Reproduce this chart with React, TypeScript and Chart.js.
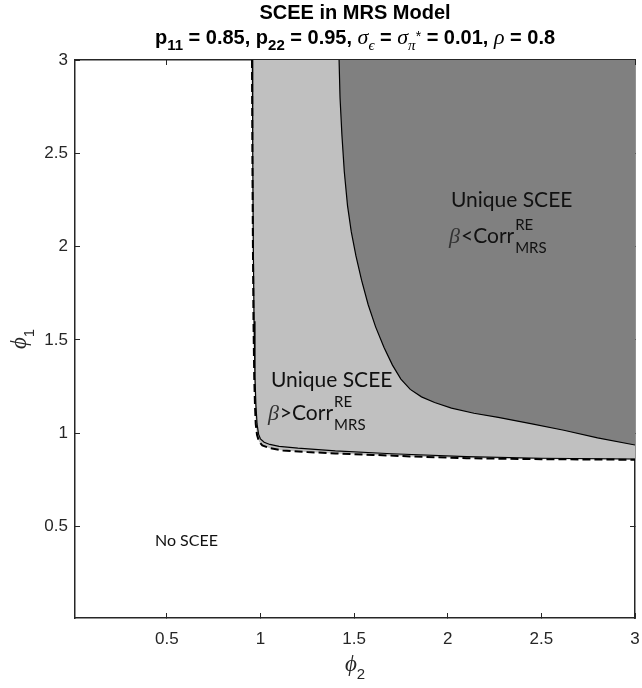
import React, { useEffect, useRef } from 'react';
import { Chart, registerables } from 'chart.js';

Chart.register(...registerables);

// ---- axes ----
const xTicks = [0.5, 1, 1.5, 2, 2.5, 3];
const yTicks = [0.5, 1, 1.5, 2, 2.5, 3];
const axisMin = 0.01;
const axisMax = 3;

// ---- boundary of the existence region (dashed) : phi2 (x) / phi1 (y) ----
const dashedPhi2 = [0.955, 0.957, 0.96, 0.963, 0.967, 0.971, 0.975, 0.982, 0.993, 1.01, 1.05, 1.12, 1.25, 1.4, 1.6, 1.8, 2.1, 2.5, 3.0];
const dashedPhi1 = [3.0, 2.5, 2.0, 1.6, 1.3, 1.15, 1.05, 0.99, 0.955, 0.935, 0.92, 0.908, 0.899, 0.892, 0.884, 0.876, 0.866, 0.861, 0.858];

// ---- boundary of the unique-SCEE region (solid) ----
const solidPhi2 = [0.957, 0.959, 0.962, 0.966, 0.971, 0.976, 0.982, 0.99, 1.0, 1.02, 1.05, 1.1, 1.2, 1.4, 1.7, 2.1, 2.5, 3.0];
const solidPhi1 = [3.0, 2.5, 2.0, 1.6, 1.3, 1.15, 1.05, 0.995, 0.97, 0.952, 0.94, 0.93, 0.92, 0.905, 0.89, 0.875, 0.866, 0.862];

// ---- boundary beta < Corr region (dark) ----
const darkPhi2 = [1.42, 1.425, 1.435, 1.448, 1.465, 1.485, 1.51, 1.54, 1.575, 1.615, 1.66, 1.705, 1.75, 1.8, 1.86, 1.93, 2.02, 2.14, 2.27, 2.45, 2.62, 2.8, 3.0];
const darkPhi1 = [3.0, 2.8, 2.6, 2.4, 2.22, 2.08, 1.95, 1.82, 1.69, 1.57, 1.46, 1.365, 1.29, 1.235, 1.195, 1.165, 1.135, 1.107, 1.085, 1.05, 1.016, 0.975, 0.937];

// ---- texts ----
const titleLine1 = 'SCEE in MRS Model';
const titleLine2 = [
  { text: 'p', kind: 'b' },
  { text: '11', kind: 'bsub' },
  { text: ' = 0.85, p', kind: 'b' },
  { text: '22', kind: 'bsub' },
  { text: ' = 0.95, ', kind: 'b' },
  { text: 'σ', kind: 'g' },
  { text: 'ϵ', kind: 'gsub' },
  { text: ' = ', kind: 'b' },
  { text: 'σ', kind: 'g' },
  { text: 'π', kind: 'gsub' },
  { text: '*', kind: 'star' },
  { text: ' = 0.01, ', kind: 'b' },
  { text: 'ρ', kind: 'g' },
  { text: ' = 0.8', kind: 'b' },
];
const xTitleMain = 'ϕ';
const xTitleSub = '2';
const yTitleMain = 'ϕ';
const yTitleSub = '1';

const plainLabels = [
  { text: 'No SCEE', phi2: 0.437, phi1: 0.395, size: 16 },
  { text: 'Unique SCEE', phi2: 1.056, phi1: 1.248, size: 21 },
  { text: 'Unique SCEE', phi2: 2.017, phi1: 2.214, size: 21 },
];
const corrLabels = [
  { sym: 'β', rel: '>Corr', sup: 'RE', sub: 'MRS', phi2: 1.04, phi1: 1.071 },
  { sym: 'β', rel: '<Corr', sup: 'RE', sub: 'MRS', phi2: 2.007, phi1: 2.019 },
];

const FONTS: Record<string, { font: string; dy: number }> = {
  b: { font: 'bold 20px "Liberation Sans", Arial, sans-serif', dy: 0 },
  bsub: { font: 'bold 15px "Liberation Sans", Arial, sans-serif', dy: 6 },
  g: { font: 'italic 22px "Liberation Serif", "DejaVu Serif", serif', dy: 0 },
  gsub: { font: 'italic 15px "Liberation Serif", "DejaVu Serif", serif', dy: 6 },
  star: { font: '14px "Liberation Sans", Arial, sans-serif', dy: -3 },
};

function drawRich(ctx: CanvasRenderingContext2D, segs: { text: string; kind: string }[], cx: number, baseline: number) {
  let total = 0;
  const widths: number[] = [];
  for (const s of segs) {
    ctx.font = FONTS[s.kind].font;
    const w = ctx.measureText(s.text).width;
    widths.push(w);
    total += w;
  }
  let x = cx - total / 2;
  segs.forEach((s, i) => {
    ctx.font = FONTS[s.kind].font;
    ctx.fillText(s.text, x, baseline + FONTS[s.kind].dy);
    x += widths[i];
  });
}

const textPlugin = {
  id: 'sceeTexts',
  afterDraw(chart: any) {
    const ctx: CanvasRenderingContext2D = chart.ctx;
    const xs = chart.scales.x;
    const ys = chart.scales.y;
    const area = chart.chartArea;
    const cx = (area.left + area.right) / 2;
    ctx.save();
    ctx.textAlign = 'left';
    ctx.textBaseline = 'alphabetic';
    ctx.fillStyle = '#000';

    // title
    ctx.font = FONTS.b.font;
    const w1 = ctx.measureText(titleLine1).width;
    ctx.fillText(titleLine1, cx - w1 / 2, 19);
    drawRich(ctx, titleLine2, cx, 44);

    // region labels
    ctx.fillStyle = '#111';
    for (const l of plainLabels) {
      ctx.font = `${l.size}px Lato, "Open Sans", sans-serif`;
      ctx.fillText(l.text, xs.getPixelForValue(l.phi2), ys.getPixelForValue(l.phi1));
    }
    for (const l of corrLabels) {
      let x = xs.getPixelForValue(l.phi2);
      const y = ys.getPixelForValue(l.phi1);
      ctx.fillStyle = '#333';
      ctx.font = 'italic 22px "Liberation Serif", "DejaVu Serif", serif';
      ctx.fillText(l.sym, x, y);
      x += ctx.measureText(l.sym).width + 1;
      ctx.fillStyle = '#111';
      ctx.font = '21px Lato, "Open Sans", sans-serif';
      ctx.fillText(l.rel, x, y);
      x += ctx.measureText(l.rel).width + 1;
      ctx.font = '15px Lato, "Open Sans", sans-serif';
      ctx.fillText(l.sup, x, y - 13);
      ctx.fillText(l.sub, x, y + 10);
    }

    // axis titles
    ctx.fillStyle = '#262626';
    ctx.font = 'italic 23px "Liberation Serif", "DejaVu Serif", serif';
    const pw = ctx.measureText(xTitleMain).width;
    ctx.font = '15px "Liberation Sans", Arial, sans-serif';
    const sw = ctx.measureText(xTitleSub).width;
    const xStart = cx - (pw + sw) / 2;
    ctx.font = 'italic 23px "Liberation Serif", "DejaVu Serif", serif';
    ctx.fillText(xTitleMain, xStart, 671);
    ctx.font = '15px "Liberation Sans", Arial, sans-serif';
    ctx.fillText(xTitleSub, xStart + pw, 679);

    const cy = (area.top + area.bottom) / 2;
    ctx.translate(26, cy);
    ctx.rotate(-Math.PI / 2);
    ctx.font = 'italic 23px "Liberation Serif", "DejaVu Serif", serif';
    const pw2 = ctx.measureText(yTitleMain).width;
    ctx.font = '15px "Liberation Sans", Arial, sans-serif';
    const sw2 = ctx.measureText(yTitleSub).width;
    const s2 = -(pw2 + sw2) / 2;
    ctx.font = 'italic 23px "Liberation Serif", "DejaVu Serif", serif';
    ctx.fillText(yTitleMain, s2, 0);
    ctx.font = '15px "Liberation Sans", Arial, sans-serif';
    ctx.fillText(yTitleSub, s2 + pw2, 8);
    ctx.restore();
  },
};

const toPts = (xs: number[], ys: number[]) => xs.map((x, i) => ({ x, y: ys[i] }));

const tickFont = { family: '"Liberation Sans", Arial, sans-serif', size: 17 };
const axisColor = '#262626';

function makeAxis(position: string, ticks: number[], showLabels: boolean, size: number, padding: number) {
  const horizontal = position === 'top' || position === 'bottom';
  return {
    type: 'linear',
    position,
    min: axisMin,
    max: axisMax,
    z: 1,
    afterBuildTicks: (s: any) => {
      s.ticks = ticks.map((v) => ({ value: v }));
    },
    afterFit: (s: any) => {
      if (horizontal) s.height = size;
      else s.width = size;
      s.paddingLeft = 0;
      s.paddingRight = 0;
      s.paddingTop = 0;
      s.paddingBottom = 0;
    },
    ticks: {
      display: showLabels,
      color: axisColor,
      font: tickFont,
      padding,
      maxRotation: 0,
      autoSkip: false,
      callback: (v: any) => String(v),
    },
    grid: {
      drawOnChartArea: false,
      drawTicks: true,
      tickLength: -5,
      color: axisColor,
      lineWidth: 1,
    },
    border: { display: true, color: axisColor, width: 1.5 },
  };
}

export default function App() {
  const ref = useRef<HTMLCanvasElement>(null);
  useEffect(() => {
    const canvas = ref.current!;
    const chart = new Chart(canvas, {
      type: 'scatter',
      data: {
        datasets: [
          {
            label: 'beta < Corr',
            data: toPts(darkPhi2, darkPhi1),
            showLine: true,
            fill: 'end',
            backgroundColor: '#808080',
            borderColor: '#000',
            borderWidth: 1.2,
            pointRadius: 0,
            tension: 0,
            order: 1,
            xAxisID: 'x',
            yAxisID: 'y',
          },
          {
            label: 'unique',
            data: toPts(solidPhi2, solidPhi1),
            showLine: true,
            fill: false,
            borderColor: '#000',
            borderWidth: 1.2,
            pointRadius: 0,
            tension: 0,
            order: 2,
            xAxisID: 'x',
            yAxisID: 'y',
          },
          {
            label: 'existence',
            data: toPts(dashedPhi2, dashedPhi1),
            showLine: true,
            fill: 'end',
            backgroundColor: '#c0c0c0',
            borderColor: '#000',
            borderWidth: 2,
            borderDash: [8, 4],
            pointRadius: 0,
            tension: 0,
            order: 3,
            xAxisID: 'x',
            yAxisID: 'y',
          },
        ],
      } as any,
      options: {
        responsive: false,
        animation: false,
        devicePixelRatio: 1,
        events: [],
        layout: { padding: 0 },
        plugins: { legend: { display: false }, tooltip: { enabled: false }, title: { display: false } },
        scales: {
          x: makeAxis('bottom', xTicks, true, 70, 16),
          x2: makeAxis('top', xTicks, false, 60, 0),
          y: makeAxis('left', yTicks, true, 75, 12),
          y2: makeAxis('right', yTicks, false, 7, 0),
        } as any,
      },
      plugins: [textPlugin],
    });
    return () => chart.destroy();
  }, []);
  return (
    <div style={{ position: 'fixed', left: 0, top: 0, width: 642, height: 688, background: '#fff' }}>
      <canvas ref={ref} width={642} height={688} style={{ display: 'block', width: 642, height: 688 }} />
    </div>
  );
}
